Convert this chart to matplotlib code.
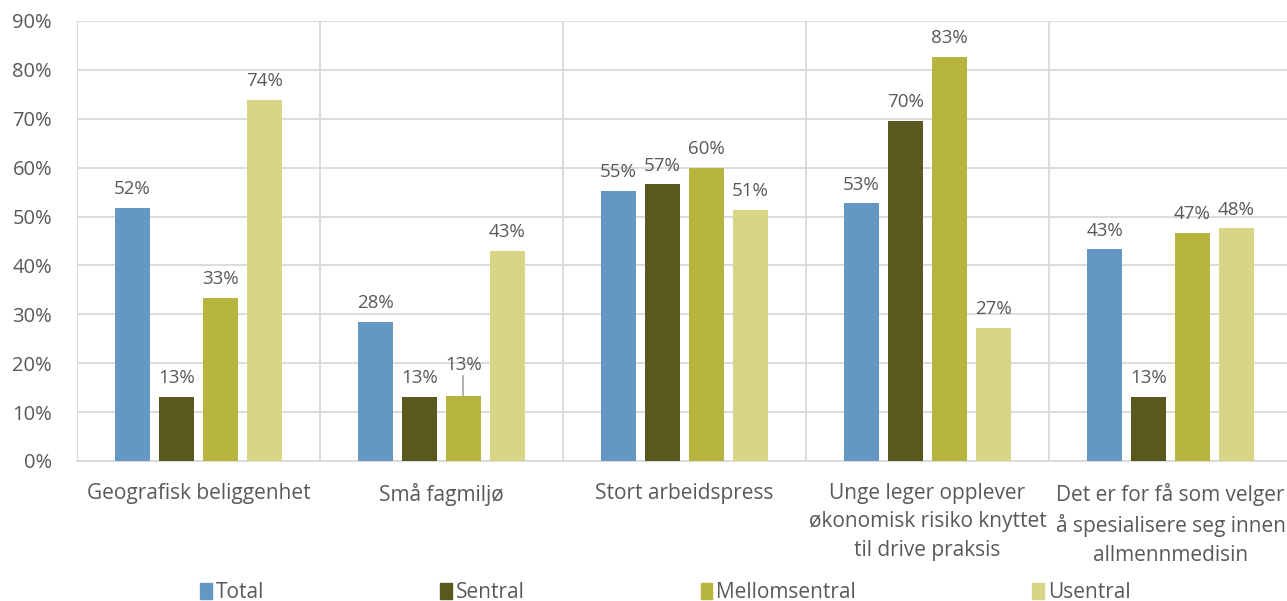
import numpy as np
import matplotlib.pyplot as plt
from matplotlib.patches import Patch

plt.rcParams['font.family'] = ['Open Sans', 'DejaVu Sans']

categories = ['Geografisk beliggenhet', 'Små fagmiljø', 'Stort arbeidspress',
              'Unge leger opplever\nøkonomisk risiko knyttet\ntil drive praksis',
              'Det er for få som velger\nå spesialisere seg innen\nallmennmedisin']
series = ['Total', 'Sentral', 'Mellomsentral', 'Usentral']
total = [51.8, 28.4, 55.2, 52.7, 43.3]
sentral = [13.1, 13.1, 56.6, 69.6, 13.1]
mellomsentral = [33.3, 13.3, 60.0, 82.6, 46.7]
usentral = [73.9, 42.9, 51.4, 27.2, 47.6]
yticks = [0, 10, 20, 30, 40, 50, 60, 70, 80, 90]

colours = ['#6497c2', '#59591f', '#b7b540', '#d8d686']
values = [total, sentral, mellomsentral, usentral]

fig = plt.figure(figsize=(12.87, 6.01), dpi=100)
ax = fig.add_axes([77/1287, 140/601, 1215/1287, 440/601])

x = np.arange(len(categories))
step = 0.181
width = 0.144
grey = '#d9d9d9'
txt = '#595959'

for i, (vals, col) in enumerate(zip(values, colours)):
    pos = x + (i - 1.5) * step
    ax.bar(pos, vals, width, color=col, zorder=3)
    for j, (p, v) in enumerate(zip(pos, vals)):
        if i == 2 and j == 1:
            # label lifted above its neighbour, with a leader line
            ax.plot([p, p], [v + 0.3, v + 4.0], color='#a6a6a6', lw=1.2, zorder=4)
            ax.text(p, v + 4.4, f'{v:.0f}%', ha='center', va='bottom',
                    fontsize=13.5, color=txt)
        else:
            ax.text(p, v + 2.0, f'{v:.0f}%', ha='center', va='bottom',
                    fontsize=13.5, color=txt)

ax.set_xlim(-0.5, len(categories) - 0.5)
ax.set_ylim(0, 90)
ax.set_yticks(yticks)
ax.set_yticklabels([f'{t}%' for t in yticks], fontsize=14.5, color=txt)
ax.set_xticks(x)
ax.set_xticklabels(categories, fontsize=15, color=txt, linespacing=1.45)
ax.tick_params(length=0)
ax.tick_params(axis='y', pad=18)
ax.tick_params(axis='x', pad=16)

ax.yaxis.grid(True, color=grey, lw=1.3, zorder=0)
for b in np.arange(-0.5, len(categories), 1):
    ax.axvline(b, color=grey, lw=1.3, zorder=0)
for s in ['top', 'right', 'left']:
    ax.spines[s].set_visible(False)
ax.spines['bottom'].set_color(grey)
ax.spines['bottom'].set_linewidth(1.3)

handles = [Patch(color=c) for c in colours]
fig.legend(handles, series, loc='lower left', bbox_to_anchor=(0.141, -0.035),
           ncol=4, frameon=False, fontsize=15, handlelength=0.55,
           handleheight=0.75, handletextpad=0.2, columnspacing=8.45,
           labelcolor=txt)

fig.savefig('out.png', dpi=100)
